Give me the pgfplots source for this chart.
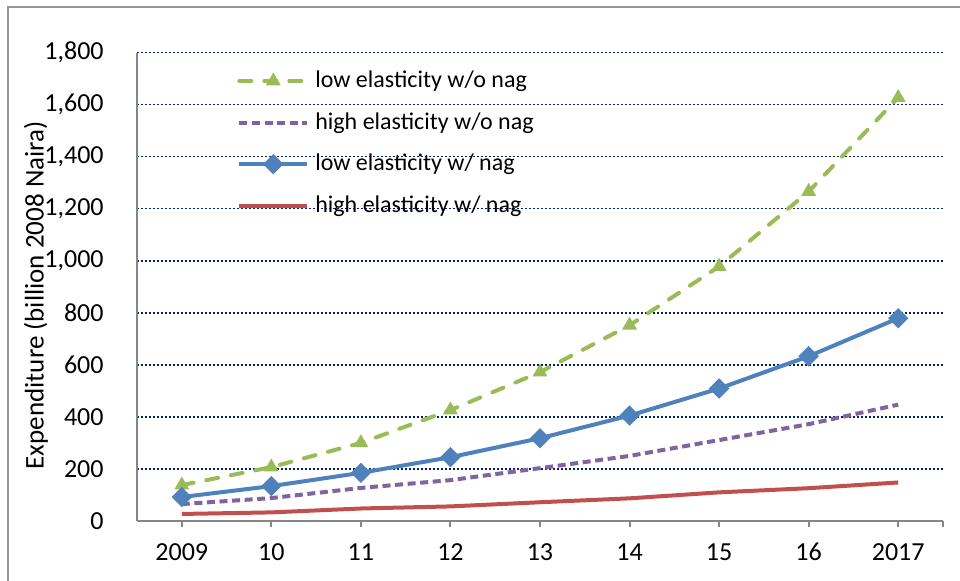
\documentclass[border=0pt]{standalone}
\usepackage{pgfplots}
\pgfplotsset{compat=1.18}
\usepackage{fontspec}
\setmainfont{Carlito}
\definecolor{cgreen}{RGB}{155,187,89}
\definecolor{cpurple}{RGB}{128,100,162}
\definecolor{cblue}{RGB}{79,129,189}
\definecolor{cred}{RGB}{192,80,77}
\definecolor{axisgray}{RGB}{134,134,134}
\definecolor{framegray}{RGB}{150,150,150}
\definecolor{gridnavy}{RGB}{0,32,96}
\begin{document}
\begin{tikzpicture}
\path[use as bounding box] (0,0) rectangle (480pt,290.5pt);
\draw[line width=1pt, framegray] (4pt,0pt) -- (4pt,287pt) -- (480pt,287pt);
\begin{axis}[
  at={(68.5pt,30pt)}, anchor=south west,
  scale only axis, width=403pt, height=234.2pt,
  xmin=-0.5, xmax=8.5, ymin=0, ymax=1800,
  axis x line=bottom, axis y line=left,
  axis line style={-, line width=1.25pt, axisgray},
  xtick={0,...,8}, xticklabels={2009,10,11,12,13,14,15,16,2017},
  extra x ticks={8.5}, extra x tick labels={},
  extra x tick style={grid=none},
  ytick={0,200,...,1800},
  ymajorgrids,
  major grid style={gridnavy, line width=0.75pt, dash pattern=on 0.9pt off 1.1pt},
  tick align=outside, major tick length=3pt,
  x tick style={axisgray, line width=1pt},
  y tick style={draw=none},
  /pgf/number format/1000 sep={,},
  /pgf/number format/assume math mode=true,
  tick label style={font=\fontsize{13}{15}\selectfont, inner sep=0pt},
  yticklabel style={anchor=east, xshift=-13.5pt},
  xticklabel style={anchor=north, yshift=-8pt},
  ylabel={Expenditure (billion 2008 Naira)},
  every axis y label/.style={at={(rel axis cs:0,0.482)}, xshift=-50.5pt, rotate=90, anchor=center, font=\fontsize{13.5}{16}\selectfont},
  legend image code/.code={\draw[mark repeat=2, mark phase=2, #1] plot coordinates {(0pt,0pt) (17pt,0pt) (34pt,0pt)};},
  legend cell align=left,
  legend style={at={(rel axis cs:0.124,0.969)}, anchor=north west, draw=none, fill=none,
    inner sep=0pt, row sep=7.3pt, column sep=2pt,
    font=\fontsize{12}{14}\selectfont,
    nodes={inner sep=1pt, text height=9pt, text depth=2.5pt}},
]
\addplot[cgreen, line width=2pt, line cap=round, dash pattern=on 6pt off 6.5pt,
  mark=triangle*, mark size=3.8pt, mark options={solid, fill=cgreen, draw=cgreen, line width=0.5pt}]
  coordinates {(0,138) (1,207) (2,300) (3,426) (4,572) (5,752) (6,978) (7,1266) (8,1627)};
\addlegendentry{low elasticity w/o nag}
\addplot[cpurple, line width=2pt, dash pattern=on 4pt off 2.3pt]
  coordinates {(0,65) (1,88) (2,127) (3,157) (4,203) (5,250) (6,311) (7,372) (8,447)};
\addlegendentry{high elasticity w/o nag}
\addplot[cblue, line width=2pt,
  mark=square*, mark size=2.6pt, mark options={rotate=45, solid, fill=cblue, draw=cblue}]
  coordinates {(0,92) (1,134) (2,185) (3,245) (4,318) (5,405) (6,509) (7,633) (8,779)};
\addlegendentry{low elasticity w/ nag}
\addplot[cred, line width=2pt]
  coordinates {(0,27) (1,33) (2,48) (3,56) (4,72) (5,87) (6,110) (7,126) (8,148)};
\addlegendentry{high elasticity w/ nag}
\end{axis}
\end{tikzpicture}
\end{document}
